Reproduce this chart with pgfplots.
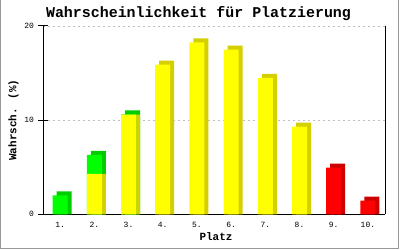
\documentclass[border=0pt]{standalone}
\usepackage{fontspec}
\setmainfont{Liberation Mono}
\usepackage{pgfplots}
\usepackage{pgfplotstable}
\pgfplotsset{compat=1.18}
\definecolor{yfront}{HTML}{FFFF00}
\definecolor{yside}{HTML}{D4D000}
\definecolor{gfront}{HTML}{00FF00}
\definecolor{gside}{HTML}{00CC00}
\definecolor{rfront}{HTML}{FF0000}
\definecolor{rside}{HTML}{CC0000}
\definecolor{frame}{HTML}{999999}
\pgfplotstableread{
x y
1 2.0
2 6.3
3 10.62
}\greentab
\pgfplotstableread{
x y
2 4.3
3 10.6
4 15.9
5 18.25
6 17.5
7 14.5
8 9.3
}\yellowtab
\pgfplotstableread{
x y
9 4.95
10 1.45
}\redtab
\begin{document}
\begin{tikzpicture}[x=1bp,y=1bp]
\path[use as bounding box] (0,0) rectangle (400,250);
\draw[frame, line width=1bp] (0.5,250) -- (0.5,1.5) -- (398.5,1.5) -- (398.5,250);
\node[font=\bfseries\fontsize{15}{16}\selectfont] at (198.5,236.5) {Wahrscheinlichkeit für Platzierung};
\begin{axis}[
  at={(43bp,35.7bp)}, anchor=south west,
  scale only axis, width=342bp, height=188.3bp,
  xmin=0.5, xmax=10.5, ymin=0, ymax=20,
  axis x line=bottom, axis y line=box,
  axis line style={line width=1bp, -},
  ytick={0,10,20}, ytick pos=left,
  xtick={1,...,10},
  xticklabels={1.,2.,3.,4.,5.,6.,7.,8.,9.,10.},
  x tick style={draw=none},
  y tick style={line width=1bp, black},
  tick align=center, major tick length=9bp,
  ymajorgrids, grid style={dash pattern=on 2bp off 3bp, line width=0.8bp, black!25},
  tick label style={font=\fontsize{8}{9}\selectfont},
  /pgf/number format/assume math mode=true,
  xticklabel style={anchor=center, yshift=-2bp},
  yticklabel style={xshift=-1bp},
  xlabel={Platz}, xlabel style={font=\bfseries\fontsize{11}{12}\selectfont, at={(axis description cs:0.5,0)}, anchor=center, yshift=-22.5bp, xshift=2bp},
  ylabel={Wahrsch. (\%)}, ylabel style={font=\bfseries\fontsize{11}{12}\selectfont, yshift=-1bp},
  ybar, bar width=15bp,
  every axis plot/.append style={bar shift=0pt, draw=none},
  clip=false,
]
% depth (side and top faces)
\addplot[fill=gside, xshift=4bp] table[y expr=\thisrow{y}+0.425] {\greentab};
\addplot[fill=yside, xshift=4bp] table[restrict x to domain=2:3] {\yellowtab};
\addplot[fill=yside, xshift=4bp] table[y expr=\thisrow{y}+0.425, restrict x to domain=4:8] {\yellowtab};
\addplot[fill=rside, xshift=4bp] table[y expr=\thisrow{y}+0.425] {\redtab};
% fronts
\addplot[fill=gfront] table {\greentab};
\addplot[fill=yfront] table {\yellowtab};
\addplot[fill=rfront] table {\redtab};
\end{axis}
\end{tikzpicture}
\end{document}
